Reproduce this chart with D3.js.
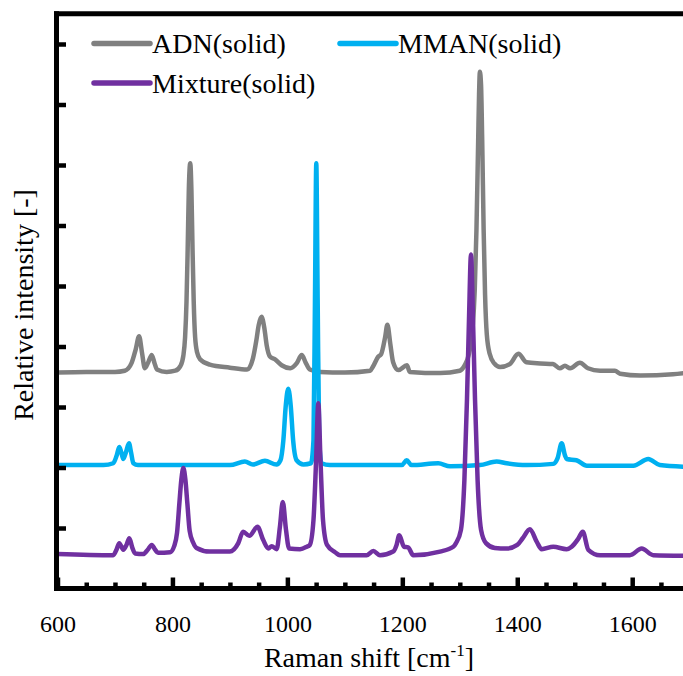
<!DOCTYPE html>
<html><head><meta charset="utf-8">
<script src="https://cdn.jsdelivr.net/npm/d3@7"></script>
<style>html,body{margin:0;padding:0;background:#fff;} svg{display:block;}</style>
</head><body><svg id="chart" width="683" height="676"></svg>
<script>
// ---------- data ----------
const seriesNames = ["ADN(solid)", "MMAN(solid)", "Mixture(solid)"];
const seriesColors = ["#808080", "#00b0f0", "#7030a0"];
const xMajorTicks = [600, 800, 1000, 1200, 1400, 1600];
const xMinorTicks = [650, 700, 750, 850, 900, 950, 1050, 1100, 1150, 1250, 1300, 1350, 1450, 1500, 1550, 1650];
const yTicks = [1, 2, 3, 4, 5, 6, 7, 8, 9];

// [Raman shift (cm-1), relative intensity]
const adn = [
[600,3.57],[650,3.58],[700,3.58],[717,3.60],[729,3.73],[736,3.95],[742,4.17],[747,3.90],[752,3.64],[758,3.74],[764,3.86],[769,3.72],[773,3.62],[790,3.58],[805,3.60],[814,3.68],[819,3.85],[822,4.15],[824.5,4.75],[826.5,5.60],[828.5,6.59],[831,7.03],[833,6.59],[835,5.60],[837,4.75],[839.5,4.15],[843,3.90],[848,3.79],[865,3.70],[900,3.65],[930,3.62],[940,3.80],[946,4.10],[950,4.35],[955,4.49],[960,4.30],[964,4.02],[970,3.83],[978,3.79],[990,3.69],[1005,3.64],[1016,3.72],[1025,3.86],[1032,3.73],[1039,3.62],[1057,3.58],[1100,3.57],[1144,3.60],[1149,3.67],[1158,3.83],[1163,3.87],[1170,4.15],[1174,4.36],[1179,4.05],[1184,3.74],[1193,3.61],[1208,3.69],[1213,3.58],[1266,3.56],[1300,3.60],[1308,3.68],[1316,3.88],[1322,4.27],[1326,4.93],[1329,5.93],[1332,7.41],[1333.5,8.16],[1335,8.54],[1337,8.32],[1339,7.41],[1341.5,5.93],[1344,4.85],[1347,4.20],[1352,3.88],[1360,3.72],[1370,3.66],[1387,3.71],[1402,3.88],[1416,3.74],[1440,3.72],[1462,3.71],[1474,3.64],[1483,3.68],[1492,3.64],[1509,3.73],[1523,3.64],[1544,3.60],[1570,3.60],[1579,3.55],[1614,3.52],[1671,3.54],[1700,3.57]
];
const mman = [
[600,2.04],[680,2.04],[697,2.07],[703,2.20],[707.5,2.34],[711,2.25],[714.5,2.14],[719,2.25],[724.4,2.40],[728,2.25],[732,2.07],[740,2.04],[900,2.04],[926,2.10],[940,2.05],[961,2.11],[981,2.05],[988,2.12],[993,2.45],[997,3.00],[1001.5,3.30],[1006,3.00],[1010,2.45],[1016,2.12],[1028,2.05],[1041,2.07],[1045.4,2.45],[1048,4.77],[1050.3,7.03],[1052.7,4.77],[1055.4,2.45],[1059.4,2.07],[1074,2.04],[1199,2.04],[1207.6,2.12],[1216,2.04],[1262.6,2.07],[1283,2.02],[1335,2.04],[1364,2.10],[1381.6,2.07],[1416,2.04],[1462.7,2.06],[1470,2.15],[1477.3,2.40],[1483,2.20],[1486,2.14],[1503,2.12],[1521,2.03],[1602,2.03],[1628,2.14],[1648,2.04],[1700,2.01]
];
const mixture = [
[600,0.57],[697,0.55],[703,0.65],[707.5,0.75],[714.5,0.64],[720,0.72],[725,0.83],[730,0.68],[735,0.58],[749,0.57],[757,0.64],[764,0.72],[770,0.64],[775,0.59],[796,0.60],[803,0.70],[808,0.92],[812,1.40],[815.5,1.80],[819,1.99],[822.5,1.80],[826,1.40],[830,0.95],[836,0.76],[842,0.67],[865,0.61],[900,0.61],[914.6,0.75],[923,0.94],[933.7,0.87],[948,1.02],[958,0.80],[967,0.66],[972.7,0.70],[981.4,0.65],[987,1.02],[992,1.43],[997.6,0.97],[1003,0.66],[1022,0.65],[1033.6,0.69],[1039,0.72],[1045.4,1.13],[1050,2.12],[1053.8,3.06],[1057.6,2.12],[1062,1.13],[1069,0.72],[1083,0.60],[1091.6,0.55],[1138,0.55],[1149.5,0.62],[1161,0.55],[1184,0.61],[1190,0.72],[1194.7,0.88],[1203,0.69],[1210,0.68],[1219,0.55],[1265.6,0.61],[1288.7,0.69],[1293.4,0.75],[1302,0.97],[1308,1.79],[1312.5,3.12],[1316,4.44],[1319.5,5.52],[1323,4.44],[1326.5,3.12],[1331,1.79],[1337,0.97],[1345.6,0.75],[1361,0.67],[1381.6,0.66],[1400,0.72],[1409.4,0.83],[1422,0.98],[1434,0.77],[1442.5,0.65],[1462.7,0.69],[1486,0.65],[1494.7,0.69],[1506,0.82],[1514,0.94],[1523.6,0.64],[1544,0.55],[1596,0.55],[1616.5,0.66],[1636.7,0.55],[1700,0.54]
];
const seriesData = [adn, mman, mixture];

// ---------- drawing ----------
const W = 683, H = 676;
const font = '"Liberation Serif"';
const x = d3.scaleLinear().domain([600, 1700]).range([57.5, 57.5 + 1100 * 0.5747]);
const y = d3.scaleLinear().domain([0, 9.5]).range([588.5, 13.75]);
const svg = d3.select('#chart');
svg.append('rect').attr('width', W).attr('height', H).attr('fill', '#fff');

svg.append('defs').append('clipPath').attr('id', 'clip').append('rect')
  .attr('x', x(600)).attr('y', y(9.5)).attr('width', x(1700) - x(600)).attr('height', y(0) - y(9.5));

const line = d3.line().x(d => x(d[0])).y(d => y(d[1])).curve(d3.curveMonotoneX);
seriesData.forEach((data, i) => {
  svg.append('path').datum(data).attr('clip-path', 'url(#clip)')
    .attr('d', line).attr('fill', 'none').attr('stroke', seriesColors[i])
    .attr('stroke-width', 4.5).attr('stroke-linejoin', 'round').attr('stroke-linecap', 'round');
});

// axes ticks
const gxMinor = svg.append('g').attr('transform', `translate(0,${y(0)})`)
  .call(d3.axisBottom(x).tickValues(xMinorTicks).tickSizeInner(-6).tickSizeOuter(0).tickFormat(''));
const gxMajor = svg.append('g').attr('transform', `translate(0,${y(0)})`)
  .call(d3.axisBottom(x).tickValues(xMajorTicks).tickSizeInner(-11).tickSizeOuter(0).tickPadding(26.5).tickFormat(d3.format('d')));
const gy = svg.append('g').attr('transform', `translate(${x(600) - 1},0)`)
  .call(d3.axisLeft(y).tickValues(yTicks).tickSizeInner(-9.5).tickSizeOuter(0).tickFormat(''));
[gxMinor, gxMajor, gy].forEach(g => {
  g.attr('font-family', null).attr('font-size', null);
  g.select('.domain').remove();
  g.selectAll('.tick line').attr('stroke', '#000').attr('stroke-width', 4.5);
});
gxMajor.selectAll('.tick text').style('font-family', font).style('font-size', '24px').attr('fill', '#000');

// frame
const frame = svg.append('g').attr('stroke', '#000').attr('stroke-width', 5).attr('fill', 'none').attr('stroke-linecap', 'square');
frame.append('line').attr('x1', x(600) - 1).attr('x2', x(600) - 1).attr('y1', y(9.5)).attr('y2', y(0));
frame.append('line').attr('x1', x(600) - 1).attr('x2', W + 10).attr('y1', y(0)).attr('y2', y(0));
frame.append('line').attr('x1', x(600) - 1).attr('x2', W + 10).attr('y1', y(9.5)).attr('y2', y(9.5));

// axis titles
const xt = svg.append('text').attr('x', 369).attr('y', 667).attr('text-anchor', 'middle')
  .style('font-family', font).style('font-size', '28px').attr('fill', '#000');
xt.append('tspan').text('Raman shift [cm');
xt.append('tspan').style('font-size', '17px').attr('dy', -11).text('-1');
xt.append('tspan').attr('dy', 11).text(']');

svg.append('text').attr('transform', 'translate(33,305) rotate(-90)').attr('text-anchor', 'middle')
  .style('font-family', font).style('font-size', '28px').attr('fill', '#000').text('Relative intensity [-]');

// legend
const legendPos = [[94, 43.5], [340, 43.5], [94, 83]];
seriesNames.forEach((name, i) => {
  const [lx, ly] = legendPos[i];
  svg.append('line').attr('x1', lx).attr('x2', lx + 56).attr('y1', ly).attr('y2', ly)
    .attr('stroke', seriesColors[i]).attr('stroke-width', 5.5).attr('stroke-linecap', 'round');
  svg.append('text').attr('x', lx + 58).attr('y', ly + 9.5)
    .style('font-family', font).style('font-size', '28px').attr('fill', '#000').text(name);
});
</script></body></html>
